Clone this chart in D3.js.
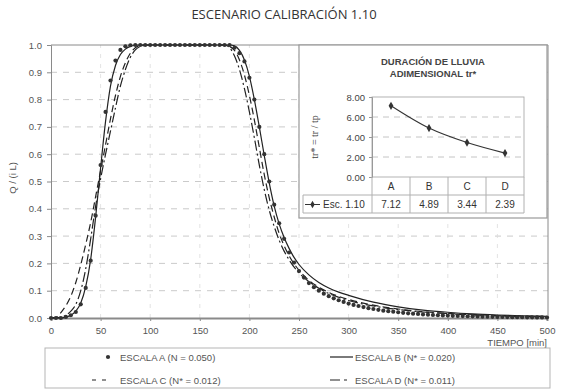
<!DOCTYPE html>
<html>
<head>
<meta charset="utf-8">
<script src="https://cdn.jsdelivr.net/npm/d3@7"></script>
<style>
  html, body { margin: 0; padding: 0; background: #fff; }
  svg { display: block; font-family: "Liberation Sans", Arial, sans-serif; }
</style>
</head>
<body>
<svg id="chart" width="562" height="390"></svg>
<script>
// ---- Hydrograph data: dimensionless discharge Q/(i L) vs time [min] ----
const timeA = d3.range(0, 501, 5);
const escalaA = [
  0, 0, 0, 0.004, 0.01, 0.022, 0.05, 0.11, 0.21, 0.375, 0.56, 0.755, 0.87, 0.943, 0.982, 0.995, 0.999,
  1, 1, 1, 1, 1, 1, 1, 1, 1, 1, 1, 1, 1, 1, 1, 1, 1, 1, 1, 1,
  0.99, 0.97, 0.94, 0.88, 0.80, 0.70, 0.60, 0.50, 0.415, 0.347, 0.29, 0.24, 0.203, 0.172, 0.148, 0.128,
  0.113, 0.10, 0.089, 0.08, 0.072, 0.065, 0.059, 0.053, 0.048, 0.044, 0.04, 0.036, 0.033, 0.03, 0.027,
  0.025, 0.023, 0.021, 0.019, 0.017, 0.016, 0.015, 0.013, 0.012, 0.011, 0.01, 0.0095, 0.009, 0.008,
  0.0075, 0.007, 0.0065, 0.006, 0.0055, 0.005, 0.0047, 0.0044, 0.004, 0.0037, 0.0035, 0.0032, 0.003,
  0.0028, 0.0026, 0.0024, 0.0022, 0.002, 0.0019
];

const timeB = [0,5,10,15,20,25,30,35,40,45,50,55,60,65,70,75,80,85,90,180,185,190,195,200,205,210,215,220,225,230,235,240,245,250,260,270,280,290,300,325,350,375,400,425,450,475,500];
const escalaB = [0,0,0,0.003,0.01,0.025,0.055,0.115,0.215,0.37,0.55,0.72,0.85,0.925,0.965,0.985,0.995,0.999,1,1,0.997,0.98,0.945,0.885,0.80,0.70,0.595,0.495,0.41,0.345,0.295,0.255,0.222,0.196,0.158,0.13,0.11,0.095,0.083,0.058,0.041,0.029,0.021,0.015,0.011,0.008,0.006];

const timeC = [0,5,10,15,20,25,30,35,40,45,50,55,60,65,70,75,80,85,90,95,175,180,185,190,195,200,205,210,215,220,225,230,235,240,250,260,270,280,290,300,325,350,375,400,450,500];
const escalaC = [0,0.002,0.02,0.045,0.08,0.13,0.195,0.27,0.35,0.445,0.54,0.635,0.73,0.815,0.885,0.935,0.97,0.99,0.998,1,1,0.995,0.98,0.945,0.89,0.815,0.725,0.625,0.525,0.44,0.37,0.31,0.265,0.228,0.175,0.138,0.113,0.094,0.079,0.068,0.047,0.033,0.023,0.017,0.009,0.005];

const timeD = [0,5,10,15,20,25,30,35,40,45,50,55,60,65,70,75,80,85,90,95,100,170,175,180,185,190,195,200,205,210,215,220,225,230,235,240,250,260,270,280,290,300,325,350,375,400,450,500];
const escalaD = [0,0,0.003,0.01,0.025,0.05,0.1,0.18,0.29,0.41,0.51,0.6,0.685,0.77,0.85,0.91,0.955,0.982,0.995,0.999,1,1,1,0.99,0.96,0.91,0.84,0.755,0.66,0.56,0.47,0.395,0.335,0.285,0.245,0.213,0.165,0.133,0.109,0.09,0.076,0.064,0.044,0.031,0.022,0.016,0.008,0.004];

const xTicks = d3.range(0, 501, 50);
const yTicks = d3.range(0, 1.01, 0.1);

const legendLabels = ["ESCALA A (N = 0.050)", "ESCALA B (N* = 0.020)", "ESCALA C (N* = 0.012)", "ESCALA D (N* = 0.011)"];

// ---- Inset: dimensionless rainfall duration ----
const insetCats = ["A", "B", "C", "D"];
const insetVals = [7.12, 4.89, 3.44, 2.39];
const insetTicks = [0, 2, 4, 6, 8];
const insetSeries = "Esc. 1.10";

const svg = d3.select("#chart");
const ink = "#222";
const axisGray = "#8a8a8a";
const textGray = "#555";

// Title
svg.append("text")
  .attr("x", 284).attr("y", 19)
  .attr("text-anchor", "middle")
  .attr("font-family", "'Open Sans', 'Lato', sans-serif")
  .attr("font-size", 13)
  .attr("fill", "#333")
  .text("ESCENARIO CALIBRACIÓN 1.10");

// Main scales
const x = d3.scaleLinear().domain([0, 500]).range([51, 547]);
const y = d3.scaleLinear().domain([0, 1]).range([318, 45]);

const g = svg.append("g");

// Gridlines
g.selectAll(".hgrid").data(yTicks.slice(1, -1)).join("line")
  .attr("x1", x(0)).attr("x2", 548)
  .attr("y1", d => y(d)).attr("y2", d => y(d))
  .attr("stroke", "#c4c4c4").attr("stroke-width", 0.9)
  .attr("stroke-dasharray", "6,6");
g.selectAll(".vgrid").data(xTicks.slice(1, -1)).join("line")
  .attr("x1", d => x(d)).attr("x2", d => x(d))
  .attr("y1", y(0)).attr("y2", y(1))
  .attr("stroke", "#dcdcdc").attr("stroke-width", 0.8)
  .attr("stroke-dasharray", "4,6");

// Plot frame (top and right)
g.append("line").attr("x1", x(0)).attr("x2", 548).attr("y1", y(1)).attr("y2", y(1))
  .attr("stroke", axisGray).attr("stroke-width", 1);
g.append("line").attr("x1", 548).attr("x2", 548).attr("y1", y(1)).attr("y2", y(0))
  .attr("stroke", axisGray).attr("stroke-width", 1);

// Axes
const yAxis = d3.axisLeft(y).tickValues(yTicks).tickFormat(d3.format(".1f")).tickSize(4).tickPadding(5);
const yG = g.append("g").attr("transform", `translate(${x(0)},0)`).call(yAxis);
yG.select(".domain").attr("stroke", axisGray);
yG.selectAll(".tick line").attr("stroke", axisGray);
yG.selectAll("text").attr("fill", textGray).attr("font-size", 9.5);

const xAxis = d3.axisBottom(x).tickValues(xTicks).tickFormat(d3.format("d")).tickSize(3).tickPadding(6);
const xG = g.append("g").attr("transform", `translate(0,${y(0)})`).call(xAxis);
xG.select(".domain").attr("stroke", axisGray).attr("stroke-width", 2);
xG.selectAll(".tick line").attr("stroke", axisGray);
xG.selectAll("text").attr("fill", textGray).attr("font-size", 9.5);

// Axis titles
svg.append("text")
  .attr("transform", "translate(16,178) rotate(-90)")
  .attr("text-anchor", "middle")
  .attr("font-size", 9.5).attr("fill", textGray)
  .text("Q / (i  L)");
svg.append("text")
  .attr("x", 547).attr("y", 346)
  .attr("text-anchor", "end")
  .attr("font-size", 9.5).attr("fill", textGray)
  .text("TIEMPO [min]");

// Series
const line = d3.line().x(d => x(d[0])).y(d => y(d[1])).curve(d3.curveMonotoneX);
const zip = (t, v) => t.map((ti, i) => [ti, v[i]]);

g.append("path").datum(zip(timeD, escalaD)).attr("d", line)
  .attr("fill", "none").attr("stroke", ink).attr("stroke-width", 1.2)
  .attr("stroke-dasharray", "10,3,2,3");
g.append("path").datum(zip(timeC, escalaC)).attr("d", line)
  .attr("fill", "none").attr("stroke", ink).attr("stroke-width", 1.2)
  .attr("stroke-dasharray", "7,4");
g.append("path").datum(zip(timeB, escalaB)).attr("d", line)
  .attr("fill", "none").attr("stroke", ink).attr("stroke-width", 1.2);
g.selectAll(".dotA").data(zip(timeA, escalaA)).join("circle")
  .attr("cx", d => x(d[0])).attr("cy", d => y(d[1]))
  .attr("r", 2.1).attr("fill", "#333");

// ---- Inset panel ----
const inset = svg.append("g");
inset.append("rect")
  .attr("x", 299).attr("y", 45).attr("width", 248).attr("height", 173)
  .attr("fill", "#fff").attr("stroke", "#9a9a9a").attr("stroke-width", 1.2);

inset.append("text").attr("x", 433).attr("y", 65).attr("text-anchor", "middle")
  .attr("font-size", 9.5).attr("font-weight", "bold").attr("fill", "#444")
  .text("DURACIÓN DE LLUVIA");
inset.append("text").attr("x", 433).attr("y", 77).attr("text-anchor", "middle")
  .attr("font-size", 9.5).attr("font-weight", "bold").attr("fill", "#444")
  .text("ADIMENSIONAL tr*");

const ix = d3.scaleBand().domain(insetCats).range([372, 524]);
const iy = d3.scaleLinear().domain([0, 8]).range([177, 97]);

inset.selectAll(".igrid").data(insetTicks.slice(1, -1)).join("line")
  .attr("x1", 372).attr("x2", 524)
  .attr("y1", d => iy(d)).attr("y2", d => iy(d))
  .attr("stroke", "#bdbdbd").attr("stroke-dasharray", "6,5").attr("stroke-width", 0.9);
inset.append("rect").attr("x", 372).attr("y", iy(8)).attr("width", 152).attr("height", iy(0) - iy(8))
  .attr("fill", "none").attr("stroke", "#aaa").attr("stroke-width", 0.9);

const iyAxis = d3.axisLeft(iy).tickValues(insetTicks).tickFormat(d3.format(".2f")).tickSize(3).tickPadding(4);
const iyG = inset.append("g").attr("transform", "translate(372,0)").call(iyAxis);
iyG.select(".domain").attr("stroke", "#999");
iyG.selectAll(".tick line").attr("stroke", "#999");
iyG.selectAll("text").attr("fill", "#444").attr("font-size", 9.5);

inset.append("text")
  .attr("transform", "translate(318,137) rotate(-90)")
  .attr("text-anchor", "middle")
  .attr("font-family", "'Liberation Serif', 'DejaVu Serif', serif")
  .attr("font-size", 10).attr("fill", "#444")
  .text("tr* = tr / tp");

// Data table under the inset chart
const rowTop = iy(0), rowMid = 195, rowBot = 213;
const tableStroke = "#b0b0b0";
inset.append("line").attr("x1", 372).attr("x2", 524).attr("y1", rowMid).attr("y2", rowMid).attr("stroke", tableStroke);
inset.append("line").attr("x1", 303).attr("x2", 524).attr("y1", rowBot).attr("y2", rowBot).attr("stroke", tableStroke);
inset.append("line").attr("x1", 303).attr("x2", 372).attr("y1", rowMid).attr("y2", rowMid).attr("stroke", tableStroke);
inset.append("line").attr("x1", 303).attr("x2", 303).attr("y1", rowMid).attr("y2", rowBot).attr("stroke", tableStroke);
inset.selectAll(".vsep").data(insetCats).join("line")
  .attr("x1", d => ix(d) + ix.bandwidth()).attr("x2", d => ix(d) + ix.bandwidth())
  .attr("y1", rowTop).attr("y2", rowBot).attr("stroke", tableStroke);
inset.append("line").attr("x1", 372).attr("x2", 372).attr("y1", rowTop).attr("y2", rowBot).attr("stroke", tableStroke);

inset.selectAll(".cat").data(insetCats).join("text")
  .attr("x", d => ix(d) + ix.bandwidth() / 2).attr("y", 190)
  .attr("text-anchor", "middle").attr("font-size", 10).attr("fill", "#333")
  .text(d => d);
inset.selectAll(".val").data(insetVals).join("text")
  .attr("x", (d, i) => ix(insetCats[i]) + ix.bandwidth() / 2).attr("y", 208)
  .attr("text-anchor", "middle").attr("font-size", 10).attr("fill", "#333")
  .text(d => d3.format(".2f")(d));

// Series key inside the table
inset.append("line").attr("x1", 305).attr("x2", 320).attr("y1", 204.5).attr("y2", 204.5).attr("stroke", "#333");
inset.append("path").attr("d", d3.symbol(d3.symbolDiamond, 16)())
  .attr("transform", "translate(312.5,204.5)").attr("fill", "#333");
inset.append("text").attr("x", 323).attr("y", 208).attr("font-size", 10).attr("fill", "#333").text(insetSeries);

// Inset line with markers
const iline = d3.line().x((d, i) => ix(insetCats[i]) + ix.bandwidth() / 2).y(d => iy(d)).curve(d3.curveCatmullRom);
inset.append("path").datum(insetVals).attr("d", iline)
  .attr("fill", "none").attr("stroke", "#333").attr("stroke-width", 1.1);
inset.selectAll(".ipt").data(insetVals).join("path")
  .attr("d", d3.symbol(d3.symbolDiamond, 20)())
  .attr("transform", (d, i) => `translate(${ix(insetCats[i]) + ix.bandwidth() / 2},${iy(d)})`)
  .attr("fill", "#333");

// ---- Legend ----
const leg = svg.append("g");
leg.append("rect").attr("x", 45).attr("y", 348).attr("width", 505).attr("height", 40)
  .attr("fill", "#fff").attr("stroke", "#b5b5b5").attr("stroke-width", 1);

const legFont = 9.5;
// A: dot marker
leg.append("circle").attr("cx", 108).attr("cy", 357).attr("r", 2.1).attr("fill", "#333");
leg.append("text").attr("x", 120).attr("y", 360.5).attr("font-size", legFont).attr("fill", textGray).text(legendLabels[0]);
// B: solid
leg.append("line").attr("x1", 330).attr("x2", 353).attr("y1", 357).attr("y2", 357).attr("stroke", ink).attr("stroke-width", 1.2);
leg.append("text").attr("x", 355).attr("y", 360.5).attr("font-size", legFont).attr("fill", textGray).text(legendLabels[1]);
// C: dashed
leg.append("line").attr("x1", 92).attr("x2", 112).attr("y1", 380).attr("y2", 380).attr("stroke", ink).attr("stroke-width", 1.2)
  .attr("stroke-dasharray", "4,6");
leg.append("text").attr("x", 120).attr("y", 383.5).attr("font-size", legFont).attr("fill", textGray).text(legendLabels[2]);
// D: dash-dot
leg.append("line").attr("x1", 330).attr("x2", 353).attr("y1", 380).attr("y2", 380).attr("stroke", ink).attr("stroke-width", 1.2)
  .attr("stroke-dasharray", "10,4,3,6");
leg.append("text").attr("x", 355).attr("y", 383.5).attr("font-size", legFont).attr("fill", textGray).text(legendLabels[3]);
</script>
</body>
</html>
